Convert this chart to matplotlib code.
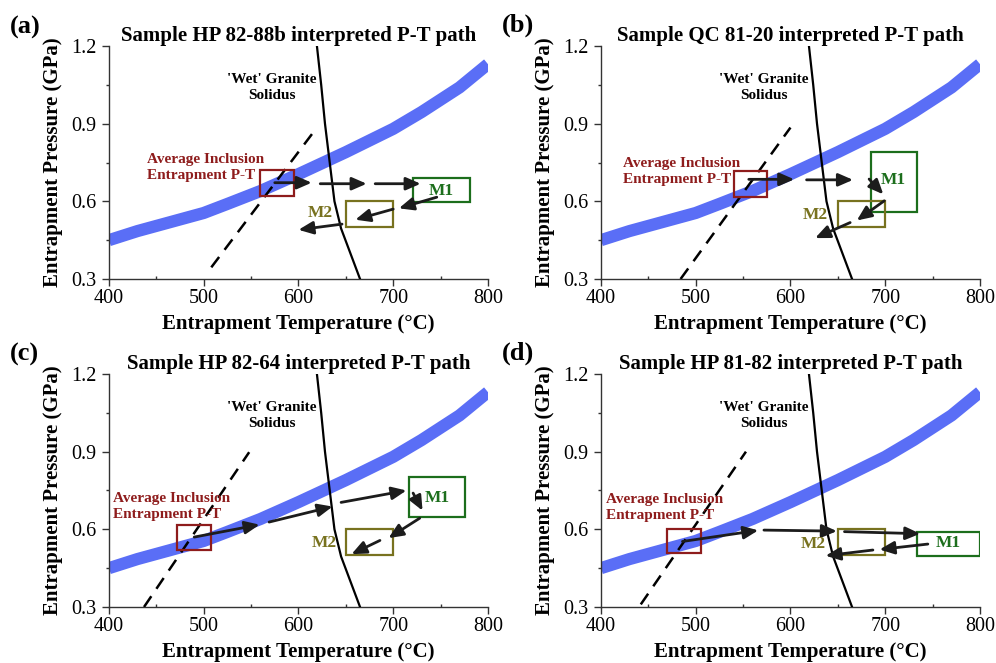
import numpy as np
import matplotlib
matplotlib.use("Agg")
import matplotlib.pyplot as plt
from matplotlib.patches import Rectangle

plt.rcParams.update({
    "font.family": "Liberation Serif",
    "font.size": 14,
    "axes.linewidth": 1.0,
    "axes.edgecolor": "#333333",
})

# ---------------------------------------------------------------------------
# Datos
# ---------------------------------------------------------------------------
PANEL_TAGS = ["(a)", "(b)", "(c)", "(d)"]
SAMPLES = ["HP 82-88b", "QC 81-20", "HP 82-64", "HP 81-82"]

# Geoterma (banda azul): T (°C), P (GPa)
BAND_T = [400, 430, 460, 500, 525, 560, 600, 650, 700, 730, 770, 800]
BAND_P = [0.45, 0.485, 0.515, 0.555, 0.59, 0.64, 0.705, 0.79, 0.88, 0.945, 1.04, 1.13]

# Solidus del granito hidratado
SOLIDUS_T = [619.5, 624, 628, 633, 638, 645, 665]
SOLIDUS_P = [1.2, 1.05, 0.9, 0.75, 0.6, 0.495, 0.3]

# Línea discontinua por muestra: (T0, P0, T1, P1)
DASHED = [
    (508, 0.345, 617, 0.873),
    (484, 0.30, 600, 0.885),
    (437, 0.30, 548, 0.898),
    (442, 0.31, 553, 0.90),
]

# Cajas (Tmin, Tmax, Pmin, Pmax)
INCL_BOX = [
    (559, 595, 0.622, 0.721),
    (540, 575, 0.618, 0.717),
    (472, 508, 0.519, 0.618),
    (470, 506, 0.507, 0.603),
]
M1_BOX = [
    (721, 781, 0.599, 0.692),
    (685, 734, 0.559, 0.792),
    (717, 776, 0.647, 0.801),
    (734, 800, 0.497, 0.589),
]
M2_BOX = [
    (650, 700, 0.50, 0.60),
    (650, 700, 0.50, 0.60),
    (650, 700, 0.50, 0.60),
    (650, 700, 0.50, 0.60),
]

# Trayectorias P-T interpretadas: flechas (T0, P0, T1, P1)
PATH_A = [
    (575, 0.672, 614, 0.672),
    (623, 0.668, 672, 0.668),
    (681, 0.668, 729, 0.668),
    (746, 0.616, 706, 0.573),
    (700, 0.570, 660, 0.529),
    (646, 0.512, 600, 0.490),
]
PATH_B = [
    (556, 0.685, 604, 0.685),
    (617, 0.683, 666, 0.683),
    (683, 0.686, 698, 0.627),
    (699, 0.602, 670, 0.526),
    (663, 0.518, 626, 0.458),
]
PATH_C = [
    (490, 0.570, 559, 0.618),
    (569, 0.628, 636, 0.688),
    (645, 0.704, 714, 0.750),
    (721, 0.740, 731, 0.672),
    (728, 0.643, 695, 0.566),
    (686, 0.557, 656, 0.504),
]
PATH_D = [
    (486, 0.553, 566, 0.596),
    (572, 0.597, 649, 0.593),
    (657, 0.591, 737, 0.583),
    (745, 0.543, 694, 0.522),
    (687, 0.520, 637, 0.498),
]
PATHS = [PATH_A, PATH_B, PATH_C, PATH_D]

# ---------------------------------------------------------------------------
# Posiciones de etiquetas y estilo
# ---------------------------------------------------------------------------
AXES_RECTS = [
    [0.1094, 0.5792, 0.3805, 0.3514],
    [0.6034, 0.5792, 0.3805, 0.3514],
    [0.1094, 0.0845, 0.3805, 0.3514],
    [0.6034, 0.0845, 0.3805, 0.3514],
]
TAG_POS = [(10, 27), (502, 25), (10, 354), (502, 353)]   # píxeles
INCL_LABEL = [(440, 0.73), (423, 0.717), (404, 0.689), (405, 0.686)]
M1_LABEL = [(751, 0.641), (709, 0.683), (746, 0.72), (767, 0.549)]
M2_LABEL = [(623, 0.554), (626, 0.548), (627, 0.549), (624, 0.544)]

BLUE = "#5A6EF6"
RED = "#8E1C1C"
GREEN = "#1C6E1C"
OLIVE = "#78721F"
INK = "#1C1C1C"

W, H = 996, 663
fig = plt.figure(figsize=(W / 100, H / 100), dpi=100)

for i in range(4):
    ax = fig.add_axes(AXES_RECTS[i])

    ax.plot(BAND_T, BAND_P, color=BLUE, lw=8.8, solid_capstyle="butt",
            solid_joinstyle="round", zorder=1)
    ax.plot(SOLIDUS_T, SOLIDUS_P, color="black", lw=1.6, zorder=3)
    t0, p0, t1, p1 = DASHED[i]
    ax.plot([t0, t1], [p0, p1], color="black", lw=1.8, dashes=(5.2, 3.6), zorder=3)

    for box, col in ((INCL_BOX[i], RED), (M1_BOX[i], GREEN), (M2_BOX[i], OLIVE)):
        tmin, tmax, pmin, pmax = box
        ax.add_patch(Rectangle((tmin, pmin), tmax - tmin, pmax - pmin,
                               fill=False, edgecolor=col, lw=1.6, zorder=4))

    for (a0, b0, a1, b1) in PATHS[i]:
        ax.annotate("", xy=(a1, b1), xytext=(a0, b0),
                    arrowprops=dict(arrowstyle="-|>,head_length=0.55,head_width=0.24",
                                    color=INK, lw=2.0, mutation_scale=16,
                                    shrinkA=0, shrinkB=0),
                    zorder=5)

    ax.text(572, 1.041, "'Wet' Granite\nSolidus", ha="center", va="center",
            fontsize=11, fontweight="bold", linespacing=1.3, zorder=6)
    tx, py = INCL_LABEL[i]
    ax.text(tx, py, "Average Inclusion\nEntrapment P-T", ha="left", va="center",
            fontsize=11, fontweight="bold", color=RED, linespacing=1.3, zorder=6)
    ax.text(*M1_LABEL[i], "M1", ha="center", va="center", fontsize=12.5,
            fontweight="bold", color=GREEN, zorder=6)
    ax.text(*M2_LABEL[i], "M2", ha="center", va="center", fontsize=12.5,
            fontweight="bold", color=OLIVE, zorder=6)

    ax.set_xlim(400, 800)
    ax.set_ylim(0.3, 1.2)
    ax.set_xticks([400, 500, 600, 700, 800])
    ax.set_xticks([450, 550, 650, 750], minor=True)
    ax.set_yticks([0.3, 0.6, 0.9, 1.2])
    ax.set_yticks([0.45, 0.75, 1.05], minor=True)
    ax.set_yticklabels(["0.3", "0.6", "0.9", "1.2"])
    ax.tick_params(which="major", direction="out", length=4.8, width=1.0,
                   labelsize=14.5, color="#333333")
    ax.tick_params(axis="x", which="major", pad=2.2)
    ax.tick_params(axis="y", which="major", pad=4.0)
    # menores: hacia dentro en T, hacia fuera en P
    ax.tick_params(axis="x", which="minor", direction="in", length=2.4, width=1.0,
                   color="#333333")
    ax.tick_params(axis="y", which="minor", direction="out", length=2.4, width=1.0,
                   color="#333333")
    for side in ("top", "right"):
        ax.spines[side].set_visible(False)

    ax.set_title(f"Sample {SAMPLES[i]} interpreted P-T path",
                 fontsize=15, fontweight="bold", pad=2)
    ax.set_xlabel("Entrapment Temperature (°C)", fontsize=15, fontweight="bold")
    ax.set_ylabel("Entrapment Pressure (GPa)", fontsize=15, fontweight="bold")
    ax.xaxis.set_label_coords(0.5, -0.193)
    ax.yaxis.set_label_coords(-0.148, 0.5)
    ax.xaxis.label.set_va("center")
    ax.yaxis.label.set_va("center")

    px, py = TAG_POS[i]
    fig.text(px / W, 1 - py / H, PANEL_TAGS[i], ha="left", va="center",
             fontsize=19, fontweight="bold")

fig.savefig("out.png", dpi=100)
